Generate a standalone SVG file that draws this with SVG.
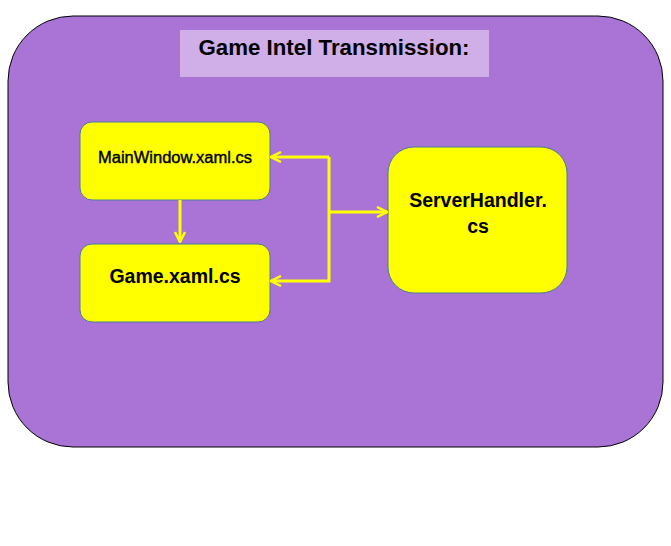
<svg xmlns="http://www.w3.org/2000/svg" width="671" height="546" viewBox="0 0 671 546">
<style>
.box{fill:#ffff00;stroke:#4a7a9a;stroke-width:1}
.lbl{font-family:"Liberation Sans",Arial,sans-serif;font-weight:bold;fill:#000;text-anchor:middle}
.con{fill:none;stroke:#ffff00;stroke-width:3}
</style>
<defs>
<marker id="arr" viewBox="0 0 12 12" refX="11" refY="6" markerWidth="12" markerHeight="12" markerUnits="userSpaceOnUse" orient="auto">
<polyline points="1,1 11,6 1,11" fill="none" stroke="#ffff00" stroke-width="2.5"/>
</marker>
</defs>
<rect width="671" height="546" fill="#ffffff"/>
<g id="container">
<rect x="8" y="16" width="655" height="431" rx="65" ry="65" fill="#a974d6" stroke="#000" stroke-width="1"/>
</g>
<g id="title">
<rect x="180" y="30" width="309" height="47" fill="#d0aee8"/>
<text class="lbl" x="334" y="55" font-size="22" textLength="271" lengthAdjust="spacingAndGlyphs">Game Intel Transmission:</text>
</g>
<g id="mainwindow">
<rect class="box" x="80" y="122" width="190" height="78" rx="12"/>
<text class="lbl" x="175" y="163" font-size="16" style="font-weight:normal;stroke:#000;stroke-width:0.4" textLength="154" lengthAdjust="spacingAndGlyphs">MainWindow.xaml.cs</text>
</g>
<g id="game">
<rect class="box" x="80" y="244" width="190" height="78" rx="12"/>
<text class="lbl" x="175" y="283" font-size="19.5">Game.xaml.cs</text>
</g>
<g id="serverhandler">
<rect class="box" x="388" y="147" width="179" height="146" rx="26"/>
<text class="lbl" x="478" y="207" font-size="19.5">ServerHandler.</text>
<text class="lbl" x="478" y="233" font-size="19.5">cs</text>
</g>
<g id="connectors">
<line class="con" x1="180" y1="200" x2="180" y2="242" marker-end="url(#arr)" stroke-width="2"/>
<polyline class="con" points="329,157 271,157" marker-end="url(#arr)"/>
<polyline class="con" points="329,157 329,281 271,281" marker-end="url(#arr)"/>
<polyline class="con" points="329,212 387,212" marker-end="url(#arr)"/>
</g>
</svg>
